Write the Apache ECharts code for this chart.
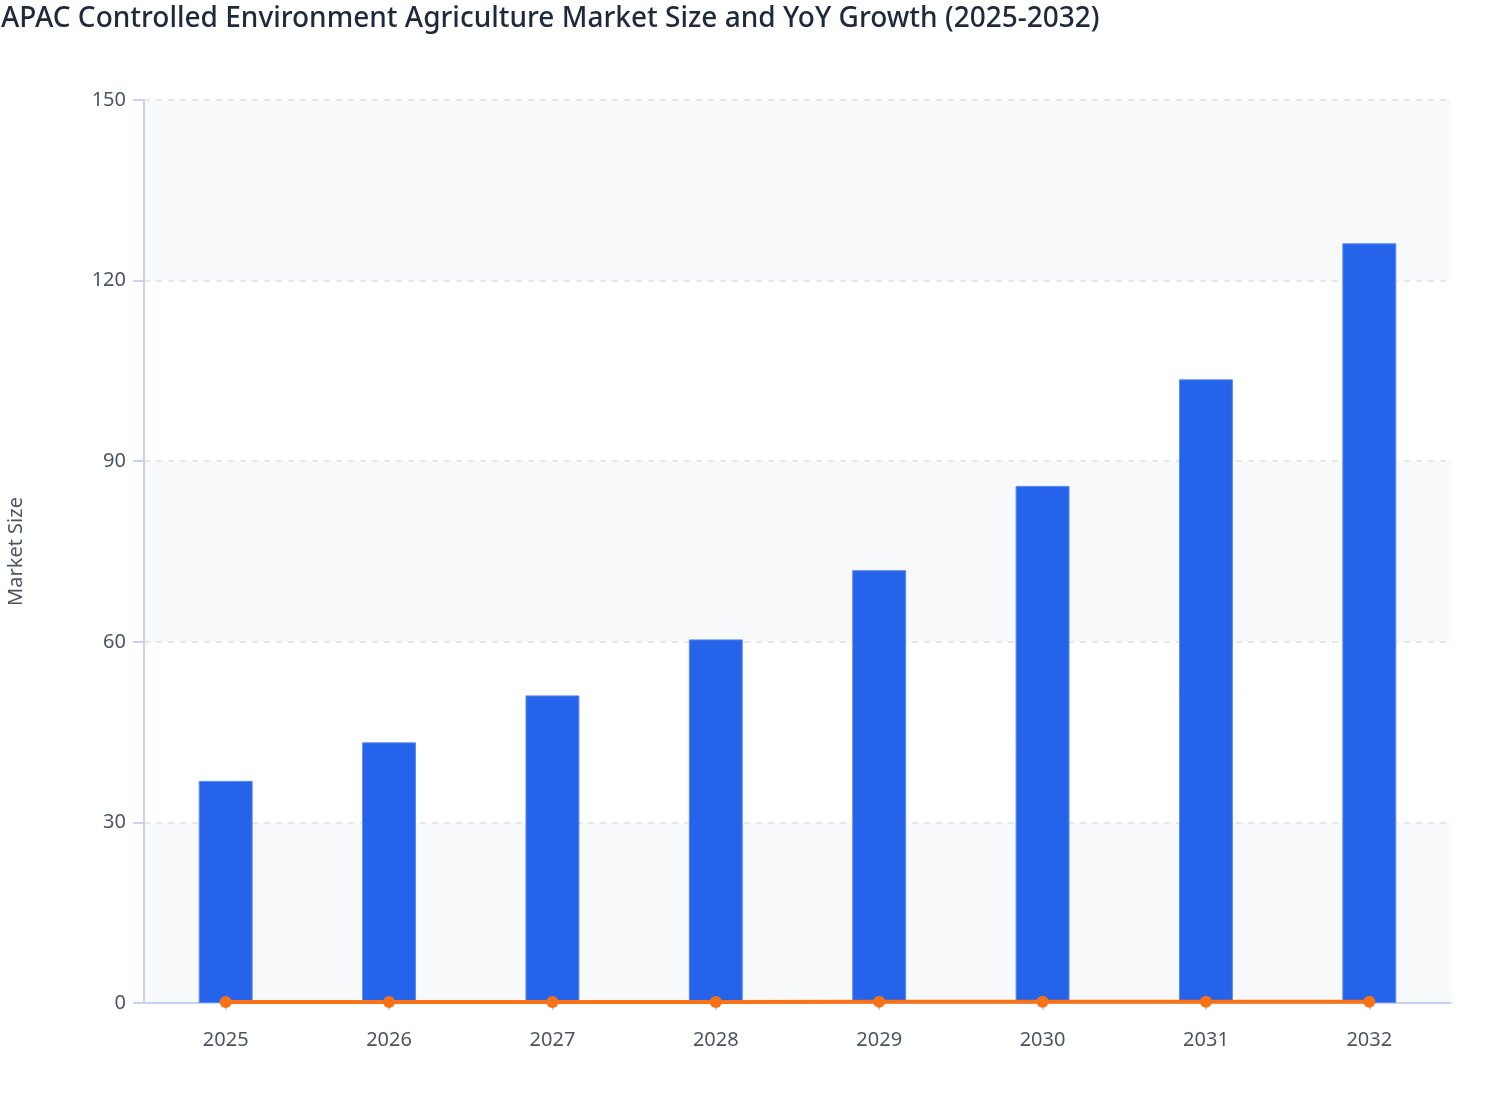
<!DOCTYPE html>
<html>
<head>
<meta charset="utf-8">
<script src="https://cdn.jsdelivr.net/npm/echarts@6/dist/echarts.min.js"></script>
<style>
html,body{margin:0;padding:0;background:#ffffff;}
#chart{width:1508px;height:1120px;}
</style>
</head>
<body>
<div id="chart"></div>
<script>
const years = ['2025','2026','2027','2028','2029','2030','2031','2032'];
const marketSize = [36.9, 43.3, 51.1, 60.4, 71.9, 85.9, 103.6, 126.2];
const yoyGrowth = [0.17, 0.173, 0.18, 0.182, 0.19, 0.195, 0.206, 0.218];
const yTicks = { min: 0, max: 150, interval: 30 };

const chart = echarts.init(document.getElementById('chart'), null, { renderer: 'canvas' });
const font = 'Noto Sans';
chart.setOption({
  backgroundColor: '#ffffff',
  animation: false,
  title: {
    text: 'APAC Controlled Environment Agriculture Market Size and YoY Growth (2025-2032)',
    left: -4,
    top: 0,
    textStyle: { fontFamily: font, fontSize: 28, fontWeight: 500, color: '#1e293b' }
  },
  grid: { left: 144, right: 57, top: 100, bottom: 117, containLabel: false, outerBoundsMode: 'none' },
  xAxis: {
    type: 'category',
    data: years,
    boundaryGap: true,
    axisLine: { show: true, lineStyle: { color: '#c7d2f2', width: 2 } },
    axisTick: { show: true, alignWithLabel: true, length: 7, lineStyle: { color: '#c7d2f2', width: 2 } },
    axisLabel: { fontFamily: font, fontSize: 20, color: '#4b5563', margin: 27 },
    splitLine: { show: false }
  },
  yAxis: {
    type: 'value',
    min: yTicks.min,
    max: yTicks.max,
    interval: yTicks.interval,
    name: 'Market Size',
    nameLocation: 'middle',
    nameGap: 118,
    nameTextStyle: { fontFamily: font, fontSize: 20, color: '#4b5563' },
    axisLine: { show: true, lineStyle: { color: '#c7d2f2', width: 2 } },
    axisTick: { show: true, length: 11, lineStyle: { color: '#c7d2f2', width: 2 } },
    axisLabel: { fontFamily: font, fontSize: 20, color: '#4b5563', margin: 18 },
    splitLine: { show: true, lineStyle: { color: '#e5e7eb', type: [6, 6], width: 2 } },
    splitArea: { show: true, areaStyle: { color: ['#f8f9fb', '#ffffff'] } }
  },
  series: [
    {
      name: 'Market Size',
      type: 'bar',
      data: marketSize,
      barWidth: '33%',
      itemStyle: { color: '#2563eb', borderColor: '#5b8af0', borderWidth: 1 },
      z: 2
    },
    {
      name: 'YoY Growth',
      type: 'line',
      data: yoyGrowth,
      symbol: 'circle',
      symbolSize: 12,
      lineStyle: { color: '#f97316', width: 4 },
      itemStyle: { color: '#f97316' },
      z: 3
    }
  ]
});
</script>
</body>
</html>
